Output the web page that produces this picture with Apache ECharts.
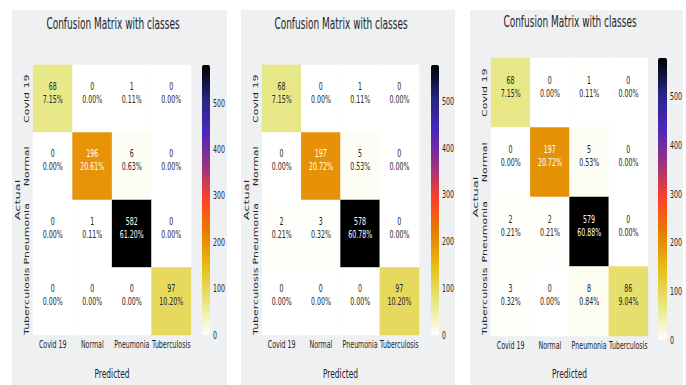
<!DOCTYPE html>
<html>
<head>
<meta charset="utf-8">
<script src="https://cdn.jsdelivr.net/npm/echarts@6/dist/echarts.min.js"></script>
<style>
  html, body { margin: 0; padding: 0; background: #ffffff; overflow: hidden; width: 686px; height: 385px; }
  /* the figure is laid out wide and squeezed horizontally */
  #chart { width: 1144px; height: 385px; transform: scaleX(0.6); transform-origin: 0 0; }
</style>
</head>
<body>
<div id="chart"></div>
<script>
// ---- data ----
const classes = ['Covid 19', 'Normal', 'Pneumonia', 'Tuberculosis'];
const matrixA = [[68, 0, 1, 0], [0, 196, 6, 0], [0, 1, 582, 0], [0, 0, 0, 97]];
const matrixB = [[68, 0, 1, 0], [0, 197, 5, 0], [2, 3, 578, 0], [0, 0, 0, 97]];
const matrixC = [[68, 0, 1, 0], [0, 197, 5, 0], [2, 2, 579, 0], [3, 0, 8, 86]];
const colorbarTicks = [0, 100, 200, 300, 400, 500];
const titleText = 'Confusion Matrix with classes';
const xName = 'Predicted';
const yName = 'Actual';

// ---- styling / layout ----
const SX = 0.6;                       // horizontal squeeze applied to the container
const px = v => v / SX;               // screen x -> layout x
const FONT = 'DejaVu Sans';
const INK = '#262626';
const PANEL_BG = '#eef0f2';
// CMRmap reversed: white -> yellow -> orange -> red -> purple -> blue -> black
const cmapStops = ['#ffffff', '#e6e680', '#e6bf1a', '#e68000', '#ff4026', '#993380', '#4d26bf', '#262680', '#000000'];

const panels = [
  { m: matrixA, bg: [12, 227], heat: [33, 191], top: 65, bottom: 335, cbar: [202, 210], titleX: 113, titleY: 17, xGap: 32 },
  { m: matrixB, bg: [241, 455], heat: [262, 419], top: 65, bottom: 335, cbar: [431, 439], titleX: 341, titleY: 17, xGap: 32 },
  { m: matrixC, bg: [470, 683], heat: [491, 648], top: 58, bottom: 340, cbar: [658, 667], titleX: 570, titleY: 15, xGap: 31 }
];

function hexToRgb(h) {
  return [1, 3, 5].map(i => parseInt(h.slice(i, i + 2), 16));
}
function cmap(t) {
  t = Math.max(0, Math.min(1, t));
  const n = cmapStops.length - 1;
  const k = Math.min(n - 1, Math.floor(t * n));
  const f = t * n - k;
  const a = hexToRgb(cmapStops[k]), b = hexToRgb(cmapStops[k + 1]);
  return a.map((c, i) => c + (b[i] - c) * f);
}
function luminance(rgb) {
  const c = rgb.map(v => {
    v /= 255;
    return v <= 0.03928 ? v / 12.92 : Math.pow((v + 0.055) / 1.055, 2.4);
  });
  return 0.2126 * c[0] + 0.7152 * c[1] + 0.0722 * c[2];
}

const option = {
  animation: false,
  textStyle: { fontFamily: FONT, color: INK },
  graphic: [],
  title: [],
  grid: [],
  xAxis: [],
  yAxis: [],
  visualMap: [],
  series: []
};

panels.forEach((p, i) => {
  const flat = p.m.flat();
  const total = flat.reduce((s, v) => s + v, 0);
  const maxV = Math.max(...flat);
  const data = [];
  p.m.forEach((row, r) => {
    row.forEach((v, c) => {
      const dark = luminance(cmap(v / maxV)) <= 0.408;
      data.push({ value: [c, r, v], label: { color: dark ? '#ffffff' : INK } });
    });
  });

  option.graphic.push({
    type: 'rect', z: -10, silent: true,
    shape: { x: px(p.bg[0]), y: 10, width: px(p.bg[1] - p.bg[0]), height: 375 },
    style: { fill: PANEL_BG }
  });

  option.title.push({
    text: titleText, left: px(p.titleX), top: p.titleY, textAlign: 'center', padding: 0,
    textStyle: { fontFamily: FONT, fontSize: 15, fontWeight: 'normal', color: INK }
  });

  const h = p.bottom - p.top;
  // heatmap grid
  option.grid.push({ left: px(p.heat[0]), top: p.top, width: px(p.heat[1] - p.heat[0]), height: h, containLabel: false });
  // colorbar grid
  option.grid.push({ left: px(p.cbar[0]), top: p.top, width: px(p.cbar[1] - p.cbar[0]), height: h, containLabel: false });

  option.xAxis.push({
    type: 'category', data: classes, gridIndex: 2 * i, position: 'bottom',
    axisLine: { show: false }, axisTick: { show: false }, splitLine: { show: false },
    axisLabel: { fontSize: 10.5, color: INK, margin: 4, interval: 0 },
    name: xName, nameLocation: 'middle', nameGap: p.xGap,
    nameTextStyle: { fontSize: 12.5, color: INK }
  });
  option.xAxis.push({ type: 'value', gridIndex: 2 * i + 1, show: false });

  option.yAxis.push({
    type: 'category', data: classes, gridIndex: 2 * i, inverse: true,
    axisLine: { show: false }, axisTick: { show: false }, splitLine: { show: false },
    axisLabel: { fontSize: 11, color: INK, rotate: 90, margin: 4, interval: 0 },
    name: yName, nameLocation: 'middle', nameRotate: 90, nameGap: 19,
    nameTextStyle: { fontSize: 13, color: INK }
  });
  option.yAxis.push({
    type: 'value', gridIndex: 2 * i + 1, min: 0, max: maxV, position: 'right',
    axisLine: { show: false }, axisTick: { show: false }, splitLine: { show: false },
    axisLabel: { fontSize: 10.5, color: INK, margin: 5, customValues: colorbarTicks }
  });

  option.visualMap.push({
    type: 'continuous', seriesIndex: i, min: 0, max: maxV, calculable: false, hoverLink: false,
    orient: 'vertical', left: px(p.cbar[0]), top: p.top, padding: 0,
    itemWidth: px(p.cbar[1] - p.cbar[0]), itemHeight: h,
    text: null, inRange: { color: cmapStops }
  });

  option.series.push({
    type: 'heatmap', xAxisIndex: 2 * i, yAxisIndex: 2 * i, data: data,
    itemStyle: { borderWidth: 0 },
    emphasis: { disabled: true },
    label: {
      show: true, fontSize: 10.5, lineHeight: 13, offset: [0, -6],
      formatter: d => d.value[2] + '\n' + (d.value[2] / total * 100).toFixed(2) + '%'
    }
  });
});

const chart = echarts.init(document.getElementById('chart'), null, { renderer: 'svg' });
chart.setOption(option);
</script>
</body>
</html>
